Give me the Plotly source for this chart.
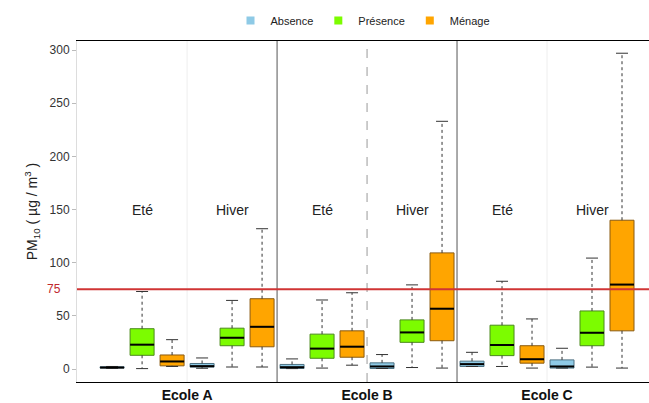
import plotly.graph_objects as go

# Periods in drawing order: school x season
schools = ["Ecole A", "Ecole B", "Ecole C"]
seasons = ["Eté", "Hiver"]
groups = ["Absence", "Présence", "Ménage"]

# PM10 box statistics (µg/m3), one value per period:
# A-Eté, A-Hiver, B-Eté, B-Hiver, C-Eté, C-Hiver
absence_lo = [0.8, 0.8, 0.5, 0.6, 2.5, 1.0]
absence_q1 = [1.0, 1.9, 0.6, 0.6, 2.5, 1.0]
absence_med = [1.5, 2.8, 1.8, 2.5, 4.7, 2.5]
absence_q3 = [2.2, 5.3, 4.4, 5.9, 7.5, 8.7]
absence_hi = [2.5, 10.5, 9.6, 13.7, 15.8, 19.6]

presence_lo = [0.5, 2.0, 1.0, 1.5, 2.5, 1.9]
presence_q1 = [13.0, 22.0, 10.2, 25.2, 12.7, 22.0]
presence_med = [23.0, 29.5, 19.3, 34.5, 22.7, 34.2]
presence_q3 = [38.0, 38.5, 32.9, 46.3, 41.3, 54.7]
presence_hi = [73.0, 64.6, 65.0, 79.2, 82.6, 104.4]

menage_lo = [2.5, 2.0, 3.7, 1.0, 1.0, 1.0]
menage_q1 = [3.1, 21.0, 11.2, 26.7, 5.6, 36.0]
menage_med = [7.2, 39.8, 21.1, 56.8, 9.3, 79.5]
menage_q3 = [13.3, 66.2, 36.0, 109.3, 22.0, 140.0]
menage_hi = [27.7, 132.0, 71.8, 233.0, 47.2, 297.0]

threshold = 75
y_ticks = [0, 50, 100, 150, 200, 250, 300]

stats = {
    "Absence": (absence_lo, absence_q1, absence_med, absence_q3, absence_hi),
    "Présence": (presence_lo, presence_q1, presence_med, presence_q3, presence_hi),
    "Ménage": (menage_lo, menage_q1, menage_med, menage_q3, menage_hi),
}
fills = {"Absence": "#8ecae6", "Présence": "#7cfc00", "Ménage": "#ffa500"}
borders = {"Absence": "#4f7384", "Présence": "#4a8a1a", "Ménage": "#8a5a10"}

FONT = "Liberation Sans, Arial, sans-serif"
BOX_W = 0.8
CAP_HALF = 0.2
n_groups = len(groups)
n_periods = len(schools) * len(seasons)

fig = go.Figure()

whisk_x, whisk_y, cap_x, cap_y = [], [], [], []
med_x, med_y = [], []

for gi, g in enumerate(groups):
    lo, q1, med, q3, hi = stats[g]
    xs = [p * n_groups + gi for p in range(n_periods)]
    for x, a, b, c, d, e in zip(xs, lo, q1, med, q3, hi):
        whisk_x += [x, x, None, x, x, None]
        whisk_y += [d, e, None, b, a, None]
        cap_x += [x - CAP_HALF, x + CAP_HALF, None, x - CAP_HALF, x + CAP_HALF, None]
        cap_y += [e, e, None, a, a, None]
        med_x += [x - BOX_W / 2, x + BOX_W / 2, None]
        med_y += [c, c, None]

# dotted whiskers beneath the boxes
fig.add_trace(go.Scatter(x=whisk_x, y=whisk_y, mode="lines",
                         line=dict(color="#333333", width=1, dash="dot"),
                         showlegend=False, hoverinfo="skip"))

for gi, g in enumerate(groups):
    lo, q1, med, q3, hi = stats[g]
    xs = [p * n_groups + gi for p in range(n_periods)]
    fig.add_trace(go.Box(
        name=g, x=xs, q1=q1, median=med, q3=q3,
        lowerfence=q1, upperfence=q3,
        width=BOX_W, whiskerwidth=0,
        fillcolor=fills[g], line=dict(color=borders[g], width=1),
        boxpoints=False, hoverinfo="skip", showlegend=False,
    ))

fig.add_trace(go.Scatter(x=cap_x, y=cap_y, mode="lines",
                         line=dict(color="#333333", width=1),
                         showlegend=False, hoverinfo="skip"))
fig.add_trace(go.Scatter(x=med_x, y=med_y, mode="lines",
                         line=dict(color="black", width=2),
                         showlegend=False, hoverinfo="skip"))

# legend keys: small plain colour squares
for g in groups:
    fig.add_trace(go.Scatter(x=[None], y=[None], mode="markers", name=g,
                             marker=dict(symbol="square", size=8, color=fills[g]),
                             showlegend=True))

span = n_groups * len(seasons)
shapes = []
# school separators
for s in range(1, len(schools)):
    xb = s * span - 0.5
    shapes.append(dict(type="line", xref="x", yref="paper", x0=xb, x1=xb, y0=0, y1=1,
                       line=dict(color="#555555", width=1)))
# season separators inside each school
for s in range(len(schools)):
    xm = s * span + n_groups - 0.5
    if s == 1:
        ln = dict(color="#9a9a9a", width=1, dash="dash")
    else:
        ln = dict(color="#eeeeee", width=1)
    shapes.append(dict(type="line", xref="x", yref="paper", x0=xm, x1=xm, y0=0, y1=1, line=ln))
# regulatory threshold
shapes.append(dict(type="line", xref="paper", yref="y", x0=0, x1=1, y0=threshold, y1=threshold,
                   line=dict(color="#d03535", width=2)))

annotations = []
for p in range(n_periods):
    annotations.append(dict(x=p * n_groups + 1, y=150, xref="x", yref="y",
                            text=seasons[p % 2], showarrow=False,
                            font=dict(family=FONT, size=14, color="#222222")))
annotations.append(dict(x=0, y=threshold, xref="paper", yref="y", text=str(threshold),
                        showarrow=False, xanchor="right", xshift=-14,
                        font=dict(family=FONT, size=12, color="#c0282d")))

fig.update_layout(
    width=649, height=403,
    margin=dict(l=77, r=0, t=41, b=18),
    paper_bgcolor="white", plot_bgcolor="white",
    font=dict(family=FONT, size=12, color="#333333"),
    shapes=shapes, annotations=annotations,
    legend=dict(orientation="h", x=0.5, xanchor="center", y=1.06, yanchor="middle",
                font=dict(family=FONT, size=11, color="#222222"),
                bgcolor="rgba(0,0,0,0)", itemwidth=30),
    showlegend=True,
)

fig.update_xaxes(
    range=[-1.17, 17.9],
    tickmode="array",
    tickvals=[s * span + (span - 1) / 2 for s in range(len(schools))],
    ticktext=["<b>%s</b>" % s for s in schools],
    tickfont=dict(family=FONT, size=14, color="#111111"),
    showgrid=False, zeroline=False,
    showline=True, linecolor="black", linewidth=1, mirror=True,
    ticks="", ticklabelstandoff=0,
)
fig.update_yaxes(
    range=[-12.1, 308.5],
    tickmode="array", tickvals=y_ticks,
    tickfont=dict(family=FONT, size=12, color="#333333"),
    ticks="outside", ticklen=4, tickcolor="#bbbbbb",
    showgrid=False, zeroline=False,
    showline=True, linecolor="#dddddd", linewidth=1,
    title=dict(text="PM<sub>10</sub> ( µg / m<sup>3</sup> )",
               font=dict(family=FONT, size=14, color="#222222"), standoff=8),
)

fig.write_html("out.html")
